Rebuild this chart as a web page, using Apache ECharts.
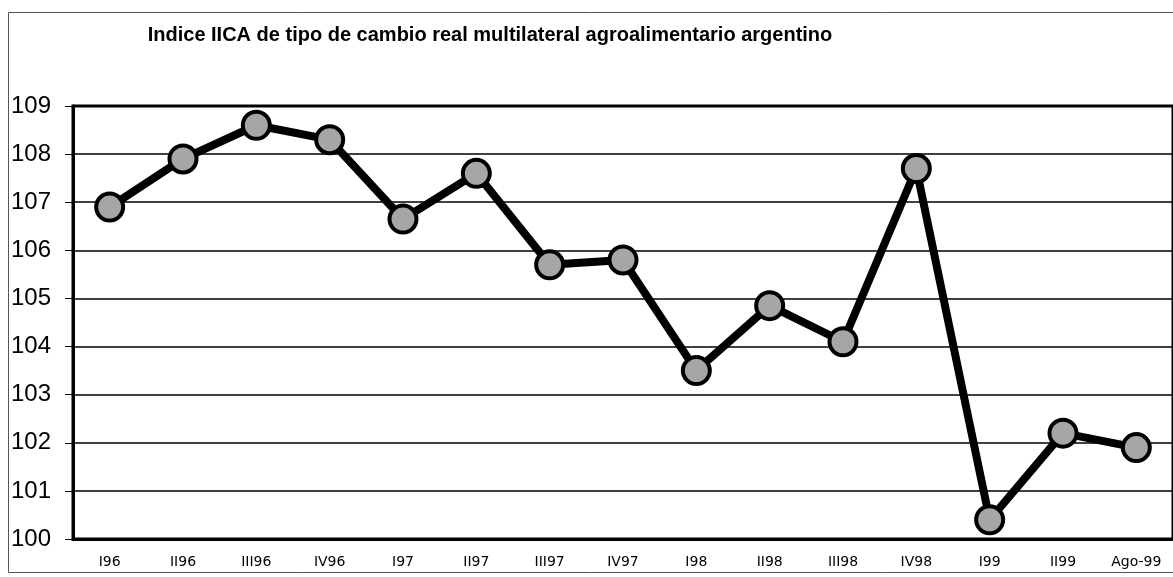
<!DOCTYPE html>
<html>
<head>
<meta charset="utf-8">
<script src="https://cdn.jsdelivr.net/npm/echarts@6/dist/echarts.min.js"></script>
<style>
  html, body { margin: 0; padding: 0; background: #fff; }
  #chart { width: 1173px; height: 577px; }
</style>
</head>
<body>
<div id="chart"></div>
<script>
// periodos (trimestres) y valor del indice
var periodos = ['I96', 'II96', 'III96', 'IV96', 'I97', 'II97', 'III97', 'IV97',
    'I98', 'II98', 'III98', 'IV98', 'I99', 'II99', 'Ago-99'];
var indice = [106.9, 107.9, 108.6, 108.3, 106.65, 107.6, 105.7, 105.8,
    103.5, 104.85, 104.1, 107.7, 100.4, 102.2, 101.9];
var yMin = 100, yMax = 109, yPaso = 1;

var chart = echarts.init(document.getElementById('chart'));

var option = {
    backgroundColor: '#fff',
    animation: false,
    title: {
        text: 'Indice IICA de tipo de cambio real multilateral agroalimentario argentino',
        left: 485,
        textAlign: 'center',
        top: 20,
        textStyle: {
            fontFamily: 'Liberation Sans',
            fontWeight: 'bold',
            fontSize: 20,
            color: '#000'
        }
    },
    // marco exterior
    graphic: [{
        type: 'rect',
        shape: { x: 8.5, y: 12.5, width: 1200, height: 560 },
        style: { fill: 'none', stroke: '#555', lineWidth: 1 },
        silent: true
    }],
    grid: {
        left: 73,
        top: 106,
        width: 1105,
        height: 433,
        show: true,
        borderColor: '#000',
        borderWidth: 3,
        backgroundColor: '#fff'
    },
    xAxis: {
        type: 'category',
        data: periodos,
        boundaryGap: true,
        axisLine: { show: true, lineStyle: { color: '#000', width: 3 } },
        axisTick: { show: false },
        axisLabel: {
            color: '#000',
            fontFamily: 'DejaVu Sans',
            fontSize: 14,
            margin: 16
        },
        splitLine: { show: false }
    },
    yAxis: {
        type: 'value',
        min: yMin,
        max: yMax,
        interval: yPaso,
        axisLine: { show: true, lineStyle: { color: '#000', width: 3 } },
        axisTick: { show: true, length: 8, lineStyle: { color: '#000', width: 1 } },
        axisLabel: {
            color: '#000',
            fontFamily: 'Liberation Sans',
            fontSize: 24,
            align: 'left',
            margin: 62
        },
        splitLine: { show: true, lineStyle: { color: '#000', width: 1.5 } }
    },
    series: [{
        type: 'line',
        data: indice,
        symbol: 'circle',
        symbolSize: 27,
        lineStyle: { color: '#000', width: 8 },
        itemStyle: { color: '#a6a6a6', borderColor: '#000', borderWidth: 4 },
        z: 5
    }]
};

chart.setOption(option);
</script>
</body>
</html>
